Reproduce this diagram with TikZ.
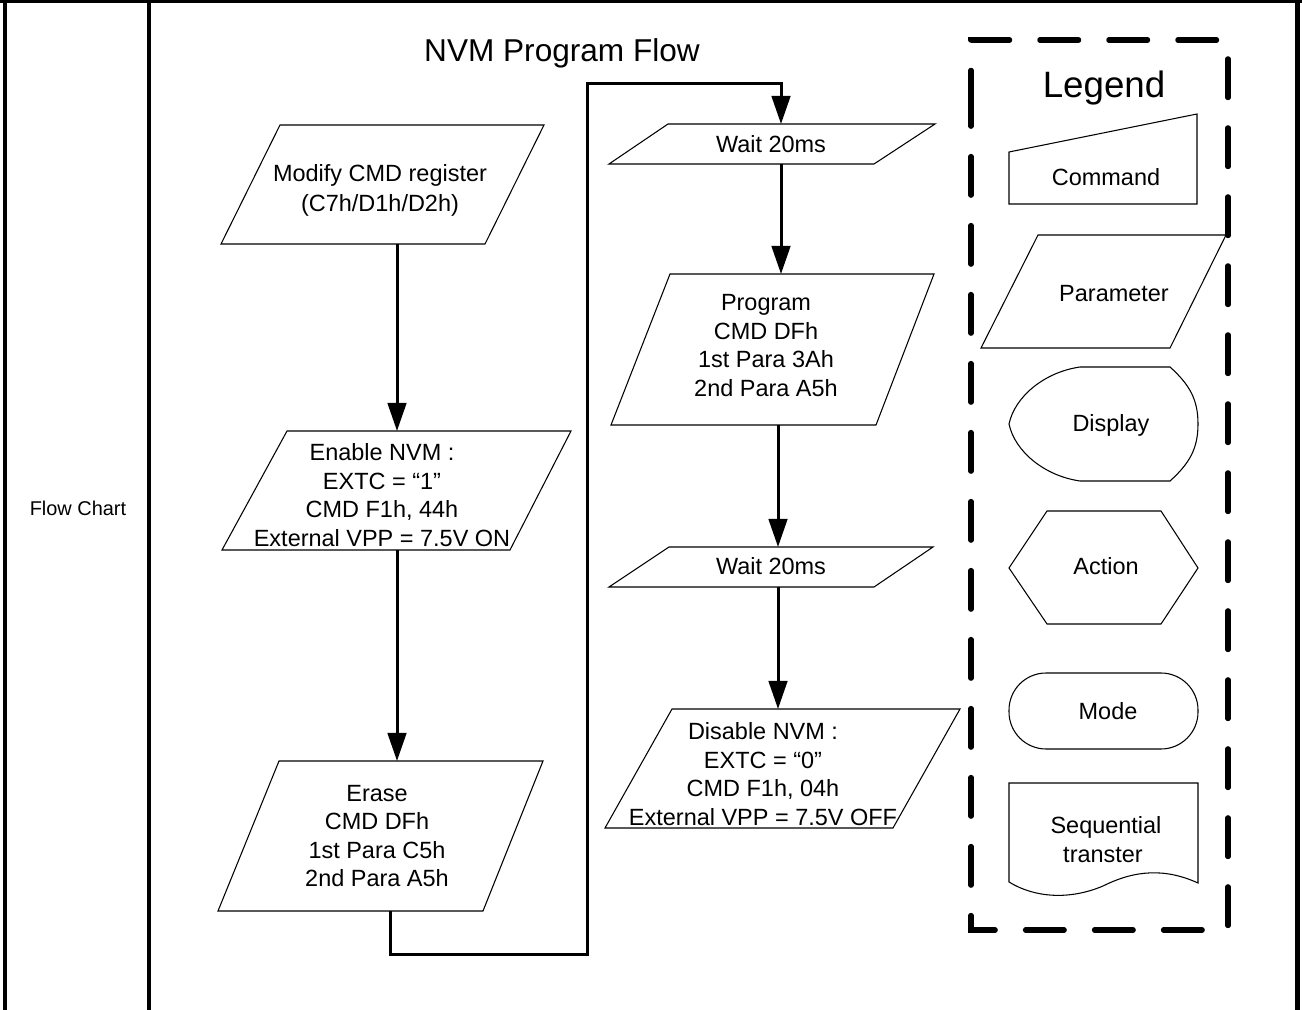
\documentclass[tikz,border=0pt]{standalone}
\usepackage{fontspec}
\setmainfont{Liberation Sans}
\usetikzlibrary{arrows.meta}
\begin{document}
\begin{tikzpicture}[x={(0.5667pt,0pt)},y={(0pt,-0.5667pt)},
  shp/.style={draw=black,line width=0.6pt,fill=white},
  txt/.style={font=\fontsize{13.3}{16.2}\selectfont,align=center,inner sep=0pt},
  lbl/.style={font=\fontsize{13.3}{16.2}\selectfont,anchor=base,inner sep=0pt},
  flow/.style={line width=1.7pt,-{Triangle[length=15.9pt,width=10.5pt]}},
  frame/.style={line width=#1},
  legendbox/.style={line width=2.9pt,line cap=round,dash pattern=on 22pt off 17.1pt}]
\useasboundingbox (0,0) rectangle (1302,1010);
% table frame
\draw[frame=1.9pt] (0,1.5) -- (1302,1.5);
\draw[frame=2.3pt] (4.7,0) -- (4.7,1010);
\draw[frame=1.9pt] (149,0) -- (149,1010);
\draw[frame=2.3pt] (1297.5,0) -- (1297.5,1010);
\node[font=\fontsize{11.3}{13}\selectfont,anchor=base,inner sep=0pt] (fc) at (78,516) {Flow Chart};
% title
\node[font=\fontsize{17.9}{20}\selectfont,anchor=base,inner sep=0pt] (title) at (562,62) {NVM Program Flow};

% shapes of flow
\draw[shp] (280,125) -- (544,125) -- (485,244) -- (221,244) -- cycle;
\node[txt,font=\fontsize{13.3}{17}\selectfont] (mod) at (380,190.5) {Modify CMD register\\(C7h/D1h/D2h)};
\draw[shp] (287,431) -- (571,431) -- (510,550) -- (222,550) -- cycle;
\node[txt] (en) at (382,495) {Enable NVM :\\EXTC = “1”\\CMD F1h, 44h\\External VPP = 7.5V ON};
\draw[shp] (279,761) -- (543,761) -- (483,911) -- (218,911) -- cycle;
\node[txt] (er) at (377,836) {Erase\\CMD DFh\\1st Para C5h\\2nd Para A5h};
\draw[shp] (668,124) -- (935,124) -- (874,164) -- (609,164) -- cycle;
\node[lbl] (w1) at (771,153) {Wait 20ms};
\draw[shp] (670,274) -- (934,274) -- (876,425) -- (611,425) -- cycle;
\node[txt] (pr) at (766,345.5) {Program\\CMD DFh\\1st Para 3Ah\\2nd Para A5h};
\draw[shp] (669,547) -- (933,547) -- (874,587) -- (609,587) -- cycle;
\node[lbl] (w2) at (771,575) {Wait 20ms};
\draw[shp] (672,709) -- (960,709) -- (893,828) -- (605,828) -- cycle;
\node[txt] (dis) at (763,774) {Disable NVM :\\EXTC = “0”\\CMD F1h, 04h\\External VPP = 7.5V OFF};

% connector end points
\coordinate (modOut) at (397,244);
\coordinate (enIn) at (397,431);
\coordinate (enOut) at (397,550);
\coordinate (erIn) at (397,761);
\coordinate (erOut) at (390,911);
\coordinate (w1In) at (781,124);
\coordinate (w1Out) at (781,164);
\coordinate (prIn) at (781,274);
\coordinate (prOut) at (778,425);
\coordinate (w2In) at (778,547);
\coordinate (w2Out) at (778,587);
\coordinate (disIn) at (778,709);

\draw[flow] (modOut) -- (enIn);
\draw[flow] (enOut) -- (erIn);
\draw[flow,line join=miter] (erOut) -- (390,954) -- (587,954) -- (587,84) -- (781,84) -- (w1In);
\draw[flow] (w1Out) -- (prIn);
\draw[flow] (prOut) -- (w2In);
\draw[flow] (w2Out) -- (disIn);

% legend
\draw[legendbox,dash phase=12pt] (971,88) -- (971,40) -- (1228,40) -- (1228,930) -- (971,930) -- cycle;
\node[font=\fontsize{20.8}{24}\selectfont,anchor=base,inner sep=0pt] (leg) at (1104,98) {Legend};
\draw[shp] (1009,152) -- (1197,114) -- (1197,204) -- (1009,204) -- cycle;
\node[lbl] (cmd) at (1106,186) {Command};
\draw[shp] (1038,235) -- (1226,235) -- (1170,348) -- (981,348) -- cycle;
\node[lbl] (par) at (1114,302) {Parameter};
\draw[shp] (1080,367) -- (1170,367) .. controls (1190,385) and (1198,400) .. (1198,424)
  .. controls (1198,448) and (1190,463) .. (1170,481) -- (1080,481)
  .. controls (1045,476) and (1015,452) .. (1009,424)
  .. controls (1015,396) and (1045,372) .. (1080,367) -- cycle;
\node[lbl] (disp) at (1111,432) {Display};
\draw[shp] (1009,568) -- (1047,511) -- (1161,511) -- (1198,568) -- (1161,624) -- (1047,624) -- cycle;
\node[lbl] (act) at (1106,575) {Action};
\draw[shp,rounded corners=21pt] (1009,673) rectangle (1198,749);
\node[lbl] (mode) at (1108,719) {Mode};
\draw[shp] (1009,882) -- (1009,783) -- (1198,783) -- (1198,883)
  .. controls (1165,868) and (1135,870) .. (1103,886)
  .. controls (1070,900) and (1035,898) .. (1009,882) -- cycle;
\node[lbl] (seq1) at (1106,833) {Sequential};
\node[lbl] (seq2) at (1103,862) {transter};
\end{tikzpicture}
\end{document}
